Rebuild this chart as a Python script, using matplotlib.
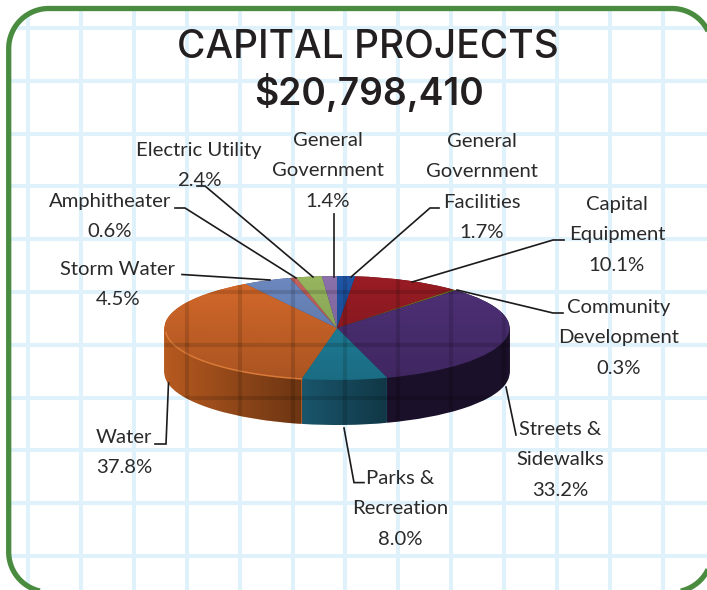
import numpy as np
import matplotlib
matplotlib.use("Agg")
import matplotlib.pyplot as plt
from matplotlib.patches import Polygon
from matplotlib.colors import LinearSegmentedColormap

# ---- data (clockwise from 12 o'clock) ----
categories = ["General\nGovernment\nFacilities", "Capital\nEquipment", "Community\nDevelopment",
              "Streets &\nSidewalks", "Parks &\nRecreation", "Water", "Storm Water",
              "Amphitheater", "Electric Utility", "General\nGovernment"]
values = [1.7, 10.1, 0.3, 33.2, 8.0, 37.8, 4.5, 0.6, 2.4, 1.4]
top_colors = ["#1f55a5", "#981c24", "#7d7d22", "#4f3178", "#2187a3", "#d4692a",
              "#6c88bf", "#c4625e", "#96b55e", "#8b70aa"]
wall_colors = ["#123058", "#5a1014", "#3a3a10", "#1b1029", "#1a566c", "#b5591f",
               "#3d4e70", "#703836", "#566834", "#504062"]
title_lines = ["CAPITAL PROJECTS", "$20,798,410"]

W, H = 707, 590
CX, CY, RX, RY, DEPTH = 337, 328, 172.5, 52, 45
TEXT = "#2b2a2b"

fig = plt.figure(figsize=(W / 100, H / 100), dpi=100, facecolor="white")


def pixel_axes(z):
    a = fig.add_axes([0, 0, 1, 1], zorder=z)
    a.set_xlim(0, W)
    a.set_ylim(H, 0)
    a.axis("off")
    a.patch.set_alpha(0)
    return a


bg = pixel_axes(0)
fg = pixel_axes(2)

# ---- grid paper and rounded border ----
L, T, R, B, RAD = 8.7, 8.5, 712, 592, 40


def rounded_outline():
    pts = []
    for cx, cy, a0 in [(L + RAD, T + RAD, 180), (R - RAD, T + RAD, 270),
                       (R - RAD, B - RAD, 0), (L + RAD, B - RAD, 90)]:
        a = np.radians(np.linspace(a0, a0 + 90, 40))
        pts.append(np.c_[cx + RAD * np.cos(a), cy + RAD * np.sin(a)])
    return np.vstack(pts)


outline = rounded_outline()
frame = Polygon(outline, closed=True, fc="white", ec="none", zorder=1)
bg.add_patch(frame)
grid_x = 28 + 52.9 * np.arange(13)
grid_y = 28 + 52.8 * np.arange(11)
for gx in grid_x:
    ln, = bg.plot([gx, gx], [0, H], color="#dff1fa", lw=2.9, zorder=2, solid_capstyle="butt")
    ln.set_clip_path(frame)
for gy in grid_y:
    ln, = bg.plot([0, W], [gy, gy], color="#dff1fa", lw=2.9, zorder=2, solid_capstyle="butt")
    ln.set_clip_path(frame)
bg.add_patch(Polygon(outline, closed=True, fc="none", ec="#4a8c3f", lw=3.8, zorder=3))

# ---- pie: unit circle squashed to an ellipse through the axis limits ----
pa = fig.add_axes([0, 0, 1, 1], zorder=1)
pa.patch.set_alpha(0)
for d in np.linspace(DEPTH / RY, 0, 46):
    pa.pie(values, colors=wall_colors, startangle=90, counterclock=False, radius=1,
           center=(0, -d), wedgeprops=dict(linewidth=0.4, edgecolor="none"))
pa.pie(values, colors=top_colors, startangle=90, counterclock=False, radius=1,
       center=(0, 0), wedgeprops=dict(linewidth=0))
pa.set_aspect("auto")
pa.set_xlim((0 - CX) / RX, (W - CX) / RX)
pa.set_ylim((CY - H) / RY, CY / RY)
pa.axis("off")

# ---- shading ----
t = np.radians(np.linspace(0, 360, 361))
ex, ey = CX + RX * np.cos(t), CY + RY * np.sin(t)
top_clip = Polygon(np.c_[ex, ey], closed=True, transform=fg.transData, fc="none", ec="none")
fg.add_patch(top_clip)
dark = LinearSegmentedColormap.from_list("d", [(0, 0, 0, 0), (0, 0, 0, 1)])
im = fg.imshow(np.linspace(0, 0.2, 64)[:, None], extent=(CX - RX, CX + RX, CY + RY, CY - RY),
               cmap=dark, vmin=0, vmax=1, aspect="auto", zorder=1, interpolation="bilinear")
im.set_clip_path(top_clip)

tw = np.radians(np.linspace(0, 180, 181))
wx = np.r_[CX + RX * np.cos(tw), CX + RX * np.cos(tw[::-1])]
wy = np.r_[CY + DEPTH + RY * np.sin(tw), CY + RY * np.sin(tw[::-1])]
wall_clip = Polygon(np.c_[wx, wy], closed=True, transform=fg.transData, fc="none", ec="none")
fg.add_patch(wall_clip)
wim = fg.imshow(np.linspace(0, 0.4, 64)[None, :], extent=(CX - RX, 300, CY + RY + DEPTH, CY),
                cmap=dark, vmin=0, vmax=1, aspect="auto", zorder=1, interpolation="bilinear")
wim.set_clip_path(wall_clip)
wim2 = fg.imshow(np.linspace(0, 0.35, 32)[None, :], extent=(300, 386, CY + RY + DEPTH, CY),
                 cmap=dark, vmin=0, vmax=1, aspect="auto", zorder=1, interpolation="bilinear")
wim2.set_clip_path(wall_clip)
fg.set_xlim(0, W)
fg.set_ylim(H, 0)

# rim highlight on the water slice
ta = np.radians(np.linspace(102, 176, 80))
fg.plot(CX + (RX - 1) * np.cos(ta), CY + (RY - 1) * np.sin(ta) + 1, color="#d97a38", lw=1.1, zorder=2)

# grid showing through the pie
sil_t = np.radians(np.linspace(180, 360, 181))
sx = np.r_[CX + RX * np.cos(sil_t), CX + RX * np.cos(tw)]
sy = np.r_[CY + RY * np.sin(sil_t), CY + DEPTH + RY * np.sin(tw)]
sil = Polygon(np.c_[sx, sy], closed=True, transform=fg.transData, fc="none", ec="none")
fg.add_patch(sil)
for gx in grid_x:
    ln, = fg.plot([gx, gx], [0, H], color="black", alpha=0.13, lw=2.9, zorder=3, solid_capstyle="butt")
    ln.set_clip_path(sil)
for gy in grid_y:
    ln, = fg.plot([0, W], [gy, gy], color="black", alpha=0.13, lw=2.9, zorder=3, solid_capstyle="butt")
    ln.set_clip_path(sil)

# ---- title ----
fg.text(368, 48, title_lines[0], ha="center", va="center", color="#231f20",
        family="Inter", fontsize=28, fontweight="medium", zorder=6)
fg.text(369, 93, title_lines[1], ha="center", va="center", color="#231f20",
        family="Inter", fontsize=26.8, fontweight="semibold", zorder=6)

# ---- labels: centre x, y of first line ----
anchors = [(482, 140), (617, 203), (619, 306), (560, 428), (400, 477),
           (124, 436), (118, 268), (110, 200), (199, 149), (328, 139)]
leaders = [
    [(439, 208), (430, 208), (351, 277)],
    [(564, 240), (553, 240), (412, 282)],
    [(563, 313), (553, 313), (457, 290)],
    [(516, 435), (506, 387)],
    [(364, 482.6), (354, 482.6), (344, 428)],
    [(155, 444), (166, 444), (168.5, 383)],
    [(182, 274.5), (270, 280)],
    [(175, 208), (185, 208), (296, 278)],
    [(197, 186), (205, 186), (313, 277)],
    [(334, 214), (334, 277)],
]
PITCH = 30.4
for name, val, (ax_, ay_), pts in zip(categories, values, anchors, leaders):
    lines = name.split("\n") + [f"{val:.1f}%"]
    for i, s in enumerate(lines):
        fg.text(ax_, ay_ + i * PITCH + 7, s, ha="center", va="baseline", color=TEXT,
                family="Lato", fontsize=14.6, zorder=6)
    p = np.array(pts)
    fg.plot(p[:, 0], p[:, 1], color="#1c1a1b", lw=1.2, zorder=5, solid_joinstyle="miter")

fig.savefig("out.png", dpi=100)
